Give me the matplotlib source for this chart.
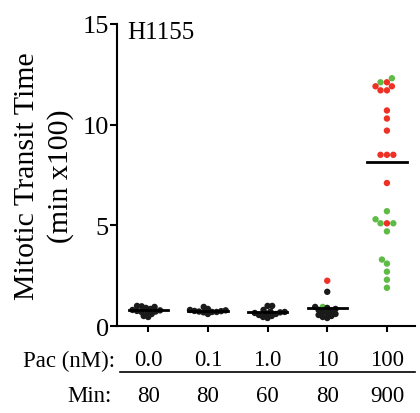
import matplotlib
matplotlib.use("Agg")
import matplotlib.pyplot as plt
import numpy as np

# ---- data ----
pac_labels = ["0.0", "0.1", "1.0", "10", "100"]
min_labels = ["80", "80", "60", "80", "900"]

g0_vals = [1.0, 0.98, 0.95, 0.9, 0.85, 0.8, 0.78, 0.75, 0.72, 0.7, 0.68, 0.6, 0.5, 0.45]
g0_cols = ["k"] * len(g0_vals)
g1_vals = [0.95, 0.85, 0.8, 0.78, 0.75, 0.74, 0.72, 0.7, 0.7, 0.68, 0.6]
g1_cols = ["k"] * len(g1_vals)
g2_vals = [1.0, 1.0, 0.8, 0.72, 0.7, 0.68, 0.65, 0.62, 0.6, 0.55, 0.5, 0.45, 0.4]
g2_cols = ["k"] * len(g2_vals)
g3_vals = [2.25, 1.7, 0.95, 0.95, 0.9, 0.85, 0.8, 0.75, 0.7, 0.65, 0.6, 0.55,
           0.5, 0.45, 0.4]
g3_cols = ["r", "k", "g"] + ["k"] * 12
g4_vals = [12.3, 12.1, 12.1, 11.9, 11.9, 11.7, 11.7, 10.7, 10.3, 9.7, 8.5, 8.5,
           8.5, 7.1, 5.7, 5.3, 5.1, 5.1, 5.1, 4.7, 3.3, 3.1, 2.7, 2.3, 1.9]
g4_cols = ["g", "r", "g", "r", "r", "r", "r", "r", "r", "r", "r", "r",
           "r", "r", "g", "g", "g", "g", "r", "g", "g", "g", "g", "g", "g"]
means = [0.78, 0.75, 0.68, 0.9, 8.15]

palette = {"k": "#1a1a1a", "r": "#ee3124", "g": "#5dbb46"}
vals = [g0_vals, g1_vals, g2_vals, g3_vals, g4_vals]
cols = [g0_cols, g1_cols, g2_cols, g3_cols, g4_cols]
# collision spacing (pixels) for beeswarm layout per group
spacing_px = [4.6, 4.6, 4.6, 4.6, 6.4]


def beeswarm(y_px, d):
    """Deterministic beeswarm: returns x offsets (px) for y positions (px)."""
    order = np.argsort(y_px)
    placed = []
    xs = np.zeros(len(y_px))
    for idx in order:
        y = y_px[idx]
        cands = [0.0]
        for (px, py) in placed:
            dy = abs(py - y)
            if dy < d:
                dx = np.sqrt(d * d - dy * dy)
                cands += [px + dx, px - dx]
        cands = sorted(set(cands), key=lambda c: (abs(c), c))
        for c in cands:
            if all((c - px) ** 2 + (y - py) ** 2 >= d * d - 1e-6 for px, py in placed):
                xs[idx] = c
                placed.append((c, y))
                break
    return xs


plt.rcParams['font.family'] = ['Liberation Serif', 'DejaVu Serif']

fig = plt.figure(figsize=(4.2, 4.14), dpi=100)
ax = fig.add_axes([0.279, 0.210, 0.709, 0.730])
ax.set_xlim(-0.52, 4.47)
ax.set_ylim(0, 15)

bbox = ax.get_window_extent()
px_per_x = bbox.width / (4.47 + 0.52)
px_per_y = bbox.height / 15.0

for i, (v, c) in enumerate(zip(vals, cols)):
    v = np.asarray(v, float)
    offs = beeswarm(v * px_per_y, spacing_px[i]) / px_per_x
    ax.scatter(i + offs, v, s=4.6 ** 2, c=[palette[k] for k in c],
               linewidths=0, zorder=3)

for i, m in enumerate(means):
    ax.plot([i - 0.33, i + 0.33], [m, m], color="black", lw=2.0, zorder=5)

ax.set_yticks([0, 5, 10, 15])
ax.set_xticks(range(5))
ax.set_xticklabels([])
ax.set_ylabel("Mitotic Transit Time\n(min x100)", fontsize=21.5, linespacing=1.35,
              labelpad=6)
ax.tick_params(axis="y", labelsize=19, width=1.5, length=5, pad=1)
ax.tick_params(axis="x", width=1.5, length=4)
for s in ["top", "right"]:
    ax.spines[s].set_visible(False)
for s in ["left", "bottom"]:
    ax.spines[s].set_linewidth(1.5)

ax.text(0.035, 1.01, "H1155", transform=ax.transAxes, fontsize=18, va="top", ha="left")

# table below
fig.text(115 / 420, 1 - 361 / 414, "Pac (nM):", fontsize=16.5, ha="right", va="center")
fig.text(112 / 420, 1 - 397 / 414, "Min:", fontsize=16.5, ha="right", va="center")
for i, (p, mn) in enumerate(zip(pac_labels, min_labels)):
    xf = ax.transData.transform((i, 0))[0] / fig.bbox.width
    fig.text(xf, 1 - 361 / 414, p, fontsize=16.5, ha="center", va="center")
    fig.text(xf, 1 - 397 / 414, mn, fontsize=16.5, ha="center", va="center")
line = plt.Line2D([120 / 420, 415 / 420], [1 - 373 / 414, 1 - 373 / 414],
                  transform=fig.transFigure, color="black", lw=1.2)
fig.add_artist(line)

fig.savefig("out.png", dpi=100)
